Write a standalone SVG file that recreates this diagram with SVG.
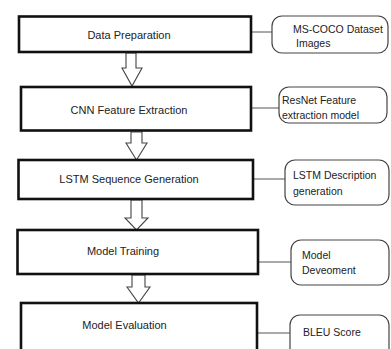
<svg xmlns="http://www.w3.org/2000/svg" width="391" height="349" viewBox="0 0 391 349">
<style>
.box{fill:#fff;stroke:#111;stroke-width:2.6}
.side{fill:#fff;stroke:#444;stroke-width:1.2}
.conn{stroke:#555;stroke-width:1;fill:none}
.arr{fill:#fff;stroke:#444;stroke-width:1.1;stroke-linejoin:miter}
.t{font-family:"Liberation Sans",Arial,sans-serif;font-size:11px;fill:#222;text-anchor:middle;dominant-baseline:central}
.s{font-family:"Liberation Sans",Arial,sans-serif;font-size:10.5px;fill:#222;dominant-baseline:central}
</style>
<rect width="391" height="349" fill="#fff"/>
<g id="connectors">
<line class="conn" x1="251" y1="32" x2="272" y2="32"/>
<line class="conn" x1="251" y1="108" x2="279" y2="108"/>
<line class="conn" x1="253" y1="179" x2="285" y2="179"/>
<line class="conn" x1="255" y1="262" x2="291" y2="262"/>
<line class="conn" x1="257" y1="333" x2="290" y2="333"/>
<polygon class="arr" points="126,53 136,53 136,68 142,68 132,86 122,68 126,68"/>
<polygon class="arr" points="131,132 142,132 142,143 147,143 136.5,160 126,143 131,143"/>
<polygon class="arr" points="131,200 142,200 142,218 148,218 136.5,230 125,218 131,218"/>
<polygon class="arr" points="132,275 145,275 145,287 150,287 138.5,303 127,287 132,287"/>
</g>
<g id="data-preparation">
<rect class="box" x="19" y="16.5" width="232" height="35.5"/>
<text class="t" x="129" y="35">Data Preparation</text>
</g>
<g id="cnn-feature-extraction">
<rect class="box" x="21" y="87" width="230" height="43.5"/>
<text class="t" x="129" y="110">CNN Feature Extraction</text>
</g>
<g id="lstm-sequence-generation">
<rect class="box" x="18.5" y="160" width="234.5" height="39"/>
<text class="t" x="129" y="179">LSTM Sequence Generation</text>
</g>
<g id="model-training">
<rect class="box" x="17.5" y="230" width="240.5" height="44"/>
<text class="t" x="123" y="251">Model Training</text>
</g>
<g id="model-evaluation">
<rect class="box" x="21" y="303" width="236" height="60"/>
<text class="t" x="124.5" y="325">Model Evaluation</text>
</g>
<g id="ms-coco">
<rect class="side" x="272" y="16" width="116" height="37" rx="10"/>
<text class="s" x="293" y="29">MS-COCO Dataset</text>
<text class="s" x="296" y="43">Images</text>
</g>
<g id="resnet">
<rect class="side" x="279" y="87" width="108" height="36" rx="10"/>
<text class="s" x="282" y="100">ResNet Feature</text>
<text class="s" x="282" y="115">extraction model</text>
</g>
<g id="lstm-description">
<rect class="side" x="285" y="160" width="104" height="45" rx="10"/>
<text class="s" x="293" y="175">LSTM Description</text>
<text class="s" x="293" y="191">generation</text>
</g>
<g id="model-development">
<rect class="side" x="291" y="240" width="98" height="45" rx="10"/>
<text class="s" x="302" y="255">Model</text>
<text class="s" x="302" y="270">Deveoment</text>
</g>
<g id="bleu-score">
<rect class="side" x="290" y="315" width="99" height="50" rx="10"/>
<text class="s" x="303" y="332">BLEU Score</text>
</g>
</svg>
